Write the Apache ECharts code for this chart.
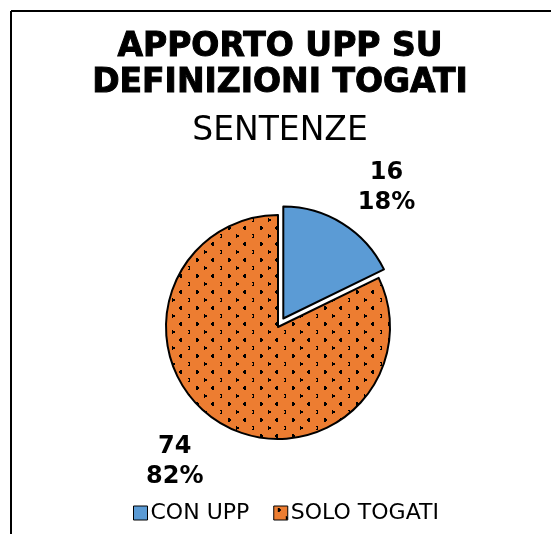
<!DOCTYPE html>
<html>
<head>
<meta charset="utf-8">
<script src="https://cdn.jsdelivr.net/npm/echarts@6/dist/echarts.min.js"></script>
<style>
  html, body { margin: 0; padding: 0; background: #fff; }
  #chart { width: 551px; height: 534px; }
</style>
</head>
<body>
<div id="chart"></div>
<script>
// data
var categories = ['CON UPP', 'SOLO TOGATI'];
var sentenze = [16, 74];
var explodedIndex = 0;

var titleLines = ['APPORTO UPP SU', 'DEFINIZIONI TOGATI'];
var subTitle = 'SENTENZE';

// dotted fill used by the orange slice
function makeDots(){
  var c = document.createElement('canvas');
  c.width = 32; c.height = 16;
  var g = c.getContext('2d');
  g.fillStyle = '#ED7D31';
  g.fillRect(0, 0, 32, 16);
  g.fillStyle = '#000';
  // small glyph-like marks on a staggered grid
  g.fillRect(4, 2, 2, 4); g.fillRect(6, 3, 1, 2);
  g.fillRect(20, 2, 2, 4); g.fillRect(19, 3, 1, 2);
  g.fillRect(12, 10, 1, 4); g.fillRect(13, 11, 2, 2);
  g.fillRect(28, 10, 2, 1); g.fillRect(29, 11, 1, 2); g.fillRect(28, 13, 2, 1);
  return c;
}

var fills = ['#5B9BD5', { image: makeDots(), repeat: 'repeat' }];

var pieData = categories.map(function(name, i){
  return {
    name: name,
    value: sentenze[i],
    selected: i === explodedIndex,
    itemStyle: { color: fills[i] }
  };
});

var chart = echarts.init(document.getElementById('chart'), null, { renderer: 'canvas' });

var titleFont = 'bold 33px "DejaVu Sans"';

var option = {
  animation: false,
  backgroundColor: '#fff',
  graphic: [
    { type: 'line', shape: { x1: 11, y1: 11, x2: 551, y2: 11 }, style: { stroke: '#000', lineWidth: 2 } },
    { type: 'line', shape: { x1: 11, y1: 11, x2: 11, y2: 534 }, style: { stroke: '#000', lineWidth: 2 } },
    { type: 'text', x: 280, y: 47, style: { text: titleLines[0], textAlign: 'center', textVerticalAlign: 'middle',
        font: titleFont, fill: '#000', stroke: '#000', lineWidth: 1 } },
    { type: 'text', x: 280, y: 83, style: { text: titleLines[1], textAlign: 'center', textVerticalAlign: 'middle',
        font: titleFont, fill: '#000', stroke: '#000', lineWidth: 1 } },
    { type: 'text', x: 280, y: 131, style: { text: subTitle, textAlign: 'center', textVerticalAlign: 'middle',
        font: '33px "DejaVu Sans"', fill: '#000' } }
  ],
  legend: {
    data: categories,
    left: 128,
    top: 497,
    icon: 'rect',
    itemWidth: 14,
    itemHeight: 14,
    itemGap: 24,
    selectedMode: false,
    itemStyle: { borderColor: '#000', borderWidth: 1 },
    textStyle: { fontFamily: 'DejaVu Sans', fontSize: 22, color: '#000', padding: [0, 0, 0, -2] }
  },
  series: [{
    type: 'pie',
    center: [278, 327],
    radius: 112,
    startAngle: 90,
    clockwise: true,
    selectedMode: 'single',
    selectedOffset: 10,
    avoidLabelOverlap: false,
    percentPrecision: 0,
    emphasis: { disabled: true },
    itemStyle: { borderColor: '#000', borderWidth: 2 },
    label: {
      show: true,
      position: 'outside',
      formatter: '{c}\n{d}%',
      fontFamily: 'DejaVu Sans',
      fontWeight: 'bold',
      fontSize: 24,
      lineHeight: 30,
      color: '#000'
    },
    labelLine: { show: false, length: 45, length2: 15 },
    labelLayout: { align: 'center', dy: 2 },
    data: pieData
  }]
};

chart.setOption(option);
</script>
</body>
</html>
